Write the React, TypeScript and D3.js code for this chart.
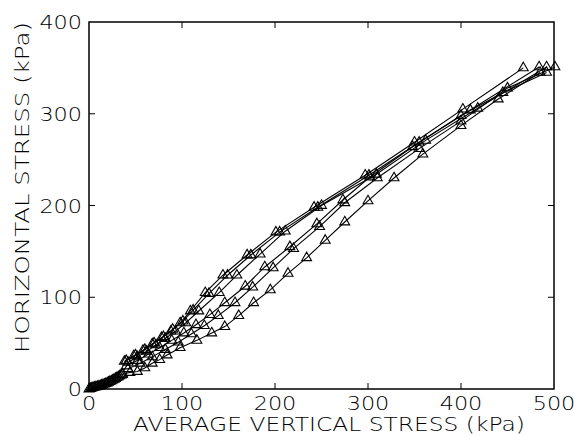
import React from "react";
import * as d3 from "d3";

const xTicks = [0, 100, 200, 300, 400, 500];
const yTicks = [0, 100, 200, 300, 400];
const xTitle = "AVERAGE VERTICAL STRESS (kPa)";
const yTitle = "HORIZONTAL STRESS (kPa)";

const initialCurve: [number, number][] = [
  [0, 0], [1.5, 0.5], [3, 1], [4.5, 1.5], [6, 2], [7.5, 2.3], [9, 2.7], [10.5, 3], [12, 3.5],
  [13.5, 4], [15, 4.6], [16.5, 5.2], [18, 5.8], [19.5, 6.5], [21, 7.2], [22.5, 8], [24, 8.8],
  [25.5, 9.6], [27, 10.5], [28.5, 11.4], [30, 12.3], [31.5, 13.2], [33, 14.2], [34.5, 15.2], [36, 16.2],
];

const seriesA: [number, number][] = [
  [38, 30], [48, 36], [58, 42], [68, 49], [78, 56], [88, 63], [98, 72], [109, 85], [125, 105],
  [144, 124], [170, 146], [201, 171], [242, 198], [297, 233], [350, 269], [402, 305], [467, 350],
];
const seriesB: [number, number][] = [
  [40, 31], [50, 37], [60, 43], [70, 50], [80, 57], [90, 65], [101, 74], [112, 86], [129, 104],
  [149, 124], [174, 146], [205, 171], [246, 198], [301, 233], [355, 269], [410, 304], [484, 351],
];
const seriesC: [number, number][] = [
  [42, 29], [52, 35], [62, 41], [72, 48], [82, 55], [93, 63], [104, 72], [118, 85], [140, 105],
  [159, 124], [184, 147], [211, 172], [250, 200], [309, 234], [362, 271], [418, 306], [492, 351],
];
const seriesD: [number, number][] = [
  [40, 25], [52, 31], [64, 38], [76, 45], [89, 53], [102, 61], [115, 70], [130, 81], [146, 94],
  [168, 112], [189, 133], [216, 155], [245, 180], [273, 206], [302, 231], [348, 264], [400, 298],
  [445, 323], [492, 345],
];
const seriesE: [number, number][] = [
  [42, 22], [55, 28], [68, 35], [82, 43], [96, 51], [110, 60], [124, 69], [139, 80], [157, 94],
  [176, 111], [198, 132], [220, 153], [248, 177], [275, 203], [310, 230], [355, 262], [400, 292],
  [450, 328], [501, 351],
];
const seriesF: [number, number][] = [
  [36, 16], [44, 18], [52, 19], [60, 23], [68, 28], [76, 32], [84, 37], [98, 45], [116, 53],
  [132, 61], [146, 68], [161, 80], [177, 94], [195, 108], [214, 126], [234, 143], [254, 162],
  [275, 182], [300, 205], [328, 230], [359, 256], [400, 287], [440, 316], [485, 345],
];

const allSeries = [initialCurve, seriesA, seriesB, seriesC, seriesD, seriesE, seriesF];

const W = 575;
const H = 436;
const L = 89, R = 554, T = 22, B = 389;

export default function App() {
  const x = d3.scaleLinear().domain([0, 500]).range([L, R]);
  const y = d3.scaleLinear().domain([0, 400]).range([B, T]);
  const line = d3.line<[number, number]>().x((d) => x(d[0])).y((d) => y(d[1]));
  const tri = d3.symbol().type(d3.symbolTriangle).size(42)();
  const font = "'DejaVu Sans', sans-serif";
  const tickLen = 6;

  return (
    <svg width={W} height={H} style={{ position: "absolute", left: 0, top: 0, background: "#fff" }}
      fontFamily={font} fontWeight={200}>
      <rect x={0} y={0} width={W} height={H} fill="#fff" />
      {allSeries.map((s, i) => (
        <g key={i}>
          <path d={line(s) || ""} fill="none" stroke="#000" strokeWidth={1.1} />
          {s.map((d, j) => (
            <path key={j} d={tri || ""} transform={`translate(${x(d[0])},${y(d[1])})`}
              fill="none" stroke="#000" strokeWidth={1.1} />
          ))}
        </g>
      ))}
      <rect x={L} y={T} width={R - L} height={B - T} fill="none" stroke="#000" strokeWidth={1.5} />
      {xTicks.slice(1, -1).map((t) => (
        <g key={"xt" + t}>
          <line x1={x(t)} x2={x(t)} y1={B} y2={B - tickLen} stroke="#000" strokeWidth={1} />
          <line x1={x(t)} x2={x(t)} y1={T} y2={T + tickLen} stroke="#000" strokeWidth={1} />
        </g>
      ))}
      {yTicks.slice(1, -1).map((t) => (
        <g key={"yt" + t}>
          <line x1={L} x2={L + tickLen} y1={y(t)} y2={y(t)} stroke="#000" strokeWidth={1} />
          <line x1={R} x2={R - tickLen} y1={y(t)} y2={y(t)} stroke="#000" strokeWidth={1} />
        </g>
      ))}
      {xTicks.map((t) => (
        <text key={"xl" + t} x={x(t)} y={410} textAnchor="middle" fontSize={19}
          textLength={String(t).length * 14.2} lengthAdjust="spacingAndGlyphs" fill="#000">{t}</text>
      ))}
      {yTicks.map((t) => (
        <text key={"yl" + t} x={82} y={y(t) + 7} textAnchor="end" fontSize={19}
          textLength={String(t).length * 14.2} lengthAdjust="spacingAndGlyphs" fill="#000">{t}</text>
      ))}
      <text x={329} y={431} textAnchor="middle" fontSize={19} textLength={392}
        lengthAdjust="spacingAndGlyphs" fill="#000">{xTitle}</text>
      <text transform={`translate(29,187.5) rotate(-90)`} textAnchor="middle" fontSize={19}
        textLength={331} lengthAdjust="spacingAndGlyphs" fill="#000">{yTitle}</text>
    </svg>
  );
}
